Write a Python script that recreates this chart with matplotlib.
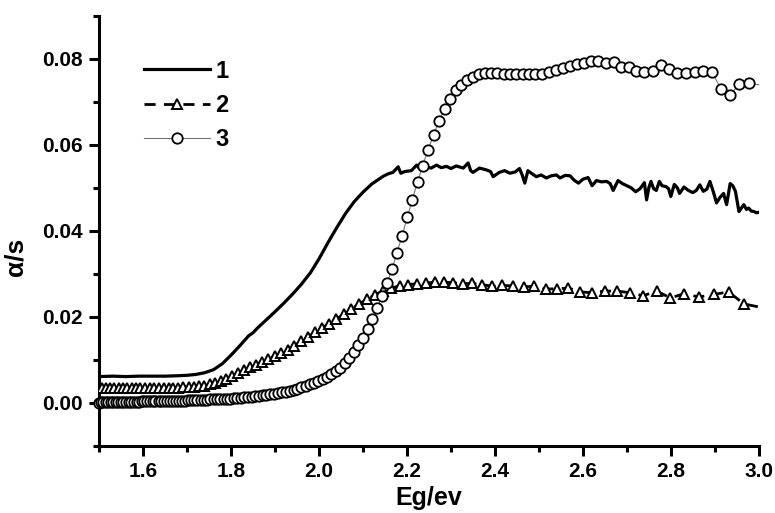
import matplotlib
matplotlib.use("Agg")
import matplotlib.pyplot as plt
from matplotlib.ticker import MultipleLocator, FormatStrFormatter

plt.rcParams["font.family"] = ["Liberation Sans", "DejaVu Sans"]
plt.rcParams["font.weight"] = "bold"

# Curve 1: solid line.
x1 = [1.50, 1.53, 1.56, 1.59, 1.62, 1.65, 1.68, 1.70, 1.72, 1.74,
      1.76, 1.78, 1.80, 1.82, 1.84, 1.85, 1.86, 1.88, 1.90, 1.92,
      1.94, 1.96, 1.98, 2.00, 2.02, 2.04, 2.06, 2.08, 2.10, 2.12,
      2.13, 2.146, 2.158, 2.168, 2.18, 2.186, 2.195, 2.21, 2.222, 2.23,
      2.244, 2.255, 2.267, 2.278, 2.29, 2.30, 2.312, 2.328, 2.339, 2.345,
      2.35, 2.365, 2.38, 2.39, 2.396, 2.41, 2.422, 2.434, 2.446, 2.456,
      2.462, 2.468, 2.475, 2.483, 2.494, 2.505, 2.517, 2.528, 2.54, 2.548,
      2.56, 2.571, 2.58, 2.59, 2.60, 2.612, 2.621, 2.631, 2.642, 2.654,
      2.662, 2.669, 2.68, 2.69, 2.70, 2.71, 2.72, 2.73, 2.74, 2.745,
      2.75, 2.755, 2.761, 2.767, 2.774, 2.78, 2.789, 2.795, 2.80, 2.808,
      2.815, 2.82, 2.83, 2.84, 2.85, 2.858, 2.866, 2.874, 2.882, 2.889,
      2.897, 2.904, 2.912, 2.92, 2.927, 2.935, 2.941, 2.947, 2.955, 2.96,
      2.966, 2.972, 2.977, 2.983, 2.989, 2.995, 3.00]
y1 = [0.0061, 0.0062, 0.0061, 0.0062, 0.0062, 0.0062, 0.0063, 0.0064, 0.0066, 0.0070,
      0.0077, 0.0091, 0.0111, 0.0133, 0.0156, 0.0163, 0.0174, 0.0193, 0.0212, 0.0232,
      0.0253, 0.0276, 0.0302, 0.0335, 0.0372, 0.0407, 0.0440, 0.0468, 0.0490, 0.0509,
      0.0516, 0.0527, 0.0533, 0.0536, 0.0549, 0.0534, 0.0538, 0.0540, 0.0553, 0.0543,
      0.0549, 0.0546, 0.0553, 0.0547, 0.0550, 0.0545, 0.0551, 0.0546, 0.0558, 0.0540,
      0.0536, 0.0546, 0.0542, 0.0538, 0.0526, 0.0536, 0.0540, 0.0534, 0.0537, 0.0545,
      0.0530, 0.0511, 0.0540, 0.0534, 0.0526, 0.0530, 0.0523, 0.0528, 0.0530, 0.0523,
      0.0529, 0.0528, 0.0518, 0.0511, 0.0520, 0.0524, 0.0505, 0.0517, 0.0514, 0.0515,
      0.0510, 0.0494, 0.0517, 0.0510, 0.0505, 0.0500, 0.0491, 0.0498, 0.0512, 0.0472,
      0.0500, 0.0515, 0.0498, 0.0494, 0.0515, 0.0505, 0.0503, 0.0498, 0.0480, 0.0508,
      0.0500, 0.0487, 0.0502, 0.0494, 0.0489, 0.0494, 0.0507, 0.0492, 0.0497, 0.0515,
      0.0490, 0.0465, 0.0478, 0.0487, 0.0461, 0.0510, 0.0505, 0.0492, 0.0445, 0.0452,
      0.0461, 0.0450, 0.0453, 0.0446, 0.0445, 0.0442, 0.0443]

# Curve 2: dashed line with triangles (last point has no marker).
x2 = [1.5067, 1.5159, 1.5252, 1.5347, 1.5442, 1.5539, 1.5637, 1.5736, 1.5837, 1.5938,
      1.6041, 1.6146, 1.6252, 1.6359, 1.6467, 1.6578, 1.6689, 1.6802, 1.6917, 1.7033,
      1.7151, 1.7270, 1.7391, 1.7514, 1.7639, 1.7765, 1.7893, 1.8023, 1.8155, 1.8289,
      1.8425, 1.8563, 1.8703, 1.8845, 1.8989, 1.9136, 1.9285, 1.9436, 1.9589, 1.9745,
      1.9904, 2.0065, 2.0228, 2.0395, 2.0564, 2.0736, 2.0911, 2.1088, 2.1269, 2.1453,
      2.1640, 2.1831, 2.2025, 2.2222, 2.2423, 2.2628, 2.2836, 2.3048, 2.3265, 2.3485,
      2.3709, 2.3938, 2.4172, 2.4409, 2.4652, 2.4900, 2.5152, 2.5410, 2.5673, 2.5941,
      2.6216, 2.6496, 2.6782, 2.7074, 2.7373, 2.7679, 2.7991, 2.8311, 2.8637, 2.8972,
      2.9314, 2.9665, 3.0000]
y2 = [0.0035, 0.0035, 0.0034, 0.0035, 0.0035, 0.0034, 0.0035, 0.0035, 0.0035, 0.0034,
      0.0035, 0.0035, 0.0035, 0.0034, 0.0035, 0.0035, 0.0035, 0.0035, 0.0036, 0.0036,
      0.0037, 0.0038, 0.0040, 0.0043, 0.0046, 0.0050, 0.0055, 0.0062, 0.0069, 0.0076,
      0.0083, 0.0089, 0.0095, 0.0102, 0.0109, 0.0116, 0.0124, 0.0133, 0.0143, 0.0153,
      0.0164, 0.0174, 0.0184, 0.0195, 0.0206, 0.0218, 0.0230, 0.0241, 0.0251, 0.0260,
      0.0267, 0.0272, 0.0275, 0.0277, 0.0279, 0.0280, 0.0281, 0.0279, 0.0277, 0.0278,
      0.0275, 0.0271, 0.0273, 0.0272, 0.0270, 0.0271, 0.0265, 0.0265, 0.0267, 0.0258,
      0.0256, 0.0260, 0.0260, 0.0256, 0.0249, 0.0260, 0.0244, 0.0254, 0.0246, 0.0252,
      0.0258, 0.0230, 0.0223]

# Curve 3: thin line with circles (last point has no marker).
x3 = [1.500, 1.504, 1.509, 1.515, 1.521, 1.526, 1.532, 1.538, 1.543, 1.549,
      1.555, 1.561, 1.567, 1.573, 1.579, 1.585, 1.591, 1.597, 1.603, 1.609,
      1.616, 1.622, 1.628, 1.635, 1.641, 1.648, 1.654, 1.661, 1.668, 1.675,
      1.681, 1.688, 1.695, 1.702, 1.709, 1.716, 1.723, 1.731, 1.738, 1.745,
      1.753, 1.760, 1.768, 1.775, 1.783, 1.791, 1.798, 1.806, 1.814, 1.822,
      1.830, 1.838, 1.847, 1.855, 1.863, 1.872, 1.880, 1.889, 1.897, 1.906,
      1.915, 1.924, 1.933, 1.942, 1.951, 1.960, 1.970, 1.979, 1.989, 1.998,
      2.008, 2.018, 2.028, 2.038, 2.048, 2.058, 2.068, 2.079, 2.089, 2.100,
      2.111, 2.121, 2.132, 2.143, 2.155, 2.166, 2.177, 2.189, 2.201, 2.212,
      2.224, 2.236, 2.248, 2.261, 2.273, 2.286, 2.298, 2.311, 2.324, 2.337,
      2.351, 2.364, 2.378, 2.392, 2.405, 2.420, 2.434, 2.448, 2.463, 2.478,
      2.492, 2.508, 2.523, 2.538, 2.554, 2.570, 2.586, 2.602, 2.619, 2.635,
      2.652, 2.670, 2.687, 2.704, 2.722, 2.740, 2.759, 2.777, 2.796, 2.815,
      2.834, 2.854, 2.874, 2.894, 2.914, 2.935, 2.956, 2.977, 3.000]
y3 = [0.0000, 0.0001, 0.0001, 0.0002, 0.0002, 0.0002, 0.0002, 0.0002, 0.0003, 0.0003,
      0.0003, 0.0003, 0.0003, 0.0003, 0.0003, 0.0003, 0.0003, 0.0004, 0.0004, 0.0004,
      0.0004, 0.0004, 0.0004, 0.0004, 0.0004, 0.0004, 0.0005, 0.0005, 0.0005, 0.0005,
      0.0005, 0.0005, 0.0005, 0.0006, 0.0006, 0.0006, 0.0006, 0.0007, 0.0007, 0.0007,
      0.0008, 0.0008, 0.0008, 0.0009, 0.0009, 0.0010, 0.0010, 0.0011, 0.0011, 0.0012,
      0.0013, 0.0013, 0.0014, 0.0015, 0.0016, 0.0017, 0.0018, 0.0020, 0.0021, 0.0023,
      0.0024, 0.0026, 0.0028, 0.0030, 0.0032, 0.0036, 0.0040, 0.0043, 0.0046, 0.0050,
      0.0055, 0.0060, 0.0066, 0.0073, 0.0082, 0.0092, 0.0104, 0.0118, 0.0134, 0.0151,
      0.0172, 0.0194, 0.0220, 0.0248, 0.0279, 0.0311, 0.0348, 0.0389, 0.0433, 0.0472,
      0.0514, 0.0552, 0.0589, 0.0624, 0.0656, 0.0684, 0.0707, 0.0727, 0.0740, 0.0751,
      0.0758, 0.0764, 0.0767, 0.0768, 0.0767, 0.0765, 0.0765, 0.0765, 0.0765, 0.0764,
      0.0765, 0.0764, 0.0770, 0.0773, 0.0778, 0.0783, 0.0788, 0.0790, 0.0794, 0.0796,
      0.0791, 0.0792, 0.0781, 0.0780, 0.0771, 0.0769, 0.0771, 0.0785, 0.0776, 0.0768,
      0.0768, 0.0769, 0.0771, 0.0769, 0.0730, 0.0716, 0.0742, 0.0743, 0.0740]

labels = ["1", "2", "3"]

fig = plt.figure(figsize=(7.75, 5.13), dpi=100)
ax = fig.add_axes([0.128, 0.131, 0.851, 0.838])

# Plot the three curves.
ax.plot(x1, y1, color="black", lw=2.3, label=labels[0], zorder=3)
ax.plot(x2, y2, color="black", lw=2.0, ls=(0, (4, 3)), marker="^", ms=7.5,
        mfc="white", mec="black", mew=1.4, markevery=slice(0, len(x2) - 1),
        label=labels[1], zorder=4)
ax.plot(x3, y3, color="#777777", lw=0.8, marker="o", ms=7.5,
        mfc="white", mec="black", mew=1.3, markevery=slice(0, len(x3) - 1),
        label=labels[2], clip_on=False, zorder=5)

ax.set_xlim(1.5, 3.0)
ax.set_ylim(-0.01, 0.09)
ax.xaxis.set_major_locator(MultipleLocator(0.2))
ax.xaxis.set_minor_locator(MultipleLocator(0.1))
ax.yaxis.set_major_locator(MultipleLocator(0.02))
ax.yaxis.set_minor_locator(MultipleLocator(0.01))
ax.xaxis.set_major_formatter(FormatStrFormatter("%.1f"))
ax.yaxis.set_major_formatter(FormatStrFormatter("%.2f"))

for side in ["top", "right"]:
    ax.spines[side].set_visible(False)
for side in ["left", "bottom"]:
    ax.spines[side].set_linewidth(2.2)

ax.tick_params(which="major", direction="out", length=7, width=2.2,
               labelsize=15, pad=5)
ax.tick_params(which="minor", direction="out", length=4, width=2.2)

ax.set_xlabel("Eg/ev", fontsize=18, fontweight="bold", labelpad=3)
ax.set_ylabel("α/s", fontsize=19, fontweight="bold")
ax.yaxis.set_label_coords(-0.108, 0.44)

ax.legend(loc="upper left", bbox_to_anchor=(0.053, 0.92), frameon=False,
          prop={"weight": "bold", "size": 17}, handlelength=2.8,
          handletextpad=0.25, labelspacing=0.48, borderaxespad=0)

fig.savefig("out.png", dpi=100)
